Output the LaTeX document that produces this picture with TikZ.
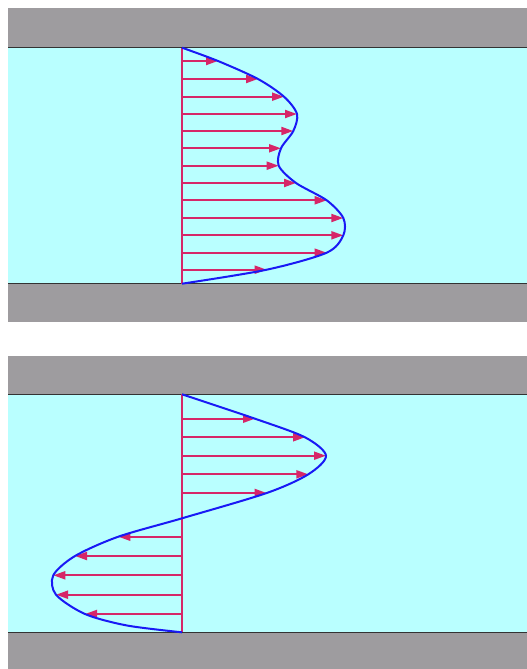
\documentclass[tikz,border=0pt]{standalone}
\usepackage{tikz}
\usetikzlibrary{arrows.meta}

\definecolor{wallgray}{RGB}{158,156,159}
\definecolor{fluid}{RGB}{185,255,255}
\definecolor{vecred}{RGB}{214,38,104}
\definecolor{profblue}{RGB}{25,25,245}

\tikzset{
  wall/.style={fill=wallgray, draw=none},
  fluidbox/.style={fill=fluid, draw=none},
  wallline/.style={draw=black!80, line width=1.5pt},
  axis/.style={draw=vecred, line width=2pt},
  vec/.style={draw=vecred, line width=2pt, -{Triangle[length=12pt,width=8pt]}},
  profile/.style={draw=profblue, line width=2pt}
}

\begin{document}
\begin{tikzpicture}[x=1pt, y=-1pt]
  \useasboundingbox (0,0) rectangle (527,669);

  % upper channel
  \fill[wall] (8,8) rectangle (527,47.7);
  \fill[fluidbox] (8,47.7) rectangle (527,283.7);
  \fill[wall] (8,283.7) rectangle (527,322);
  \draw[wallline] (8,47.7) -- (527,47.7);
  \draw[wallline] (8,283.7) -- (527,283.7);

  \coordinate (top1) at (182,47.7);
  \coordinate (bot1) at (182,283.7);
  \draw[axis] (top1) -- (bot1);

  \foreach \y/\u [count=\i] in {61/218, 79/258, 96.7/284, 114/297, 131/293.3,
      148.3/281, 165.7/278.7, 183/296, 200.3/326.7, 218/343.3, 235.3/343.3,
      252.7/326.7, 269.7/266.7} {
    \coordinate (p\i) at (182,\y);
    \coordinate (q\i) at (\u,\y);
    \draw[vec] (p\i) -- (q\i);
  }

  \draw[profile] plot[smooth] coordinates {(top1) (q1) (q2) (q3) (q4)
    (q5) (q6) (q7) (q8) (q9) (q10) (q11) (q12) (q13) (bot1)};

  % lower channel
  \fill[wall] (8,356) rectangle (527,394.3);
  \fill[fluidbox] (8,394.3) rectangle (527,632.3);
  \fill[wall] (8,632.3) rectangle (527,669);
  \draw[wallline] (8,394.3) -- (527,394.3);
  \draw[wallline] (8,632.3) -- (527,632.3);

  \coordinate (top2) at (182,394.3);
  \coordinate (bot2) at (182,632.3);
  \coordinate (zero2) at (182,518.3);
  \draw[axis] (top2) -- (bot2);

  \foreach \y/\u [count=\i] in {418.7/255, 437.3/305, 455.7/326, 474.3/308.3,
      493/266.7, 536.7/118.3, 556/75, 575.3/53.3, 594.7/56, 614/85} {
    \coordinate (r\i) at (182,\y);
    \coordinate (s\i) at (\u,\y);
    \draw[vec] (r\i) -- (s\i);
  }

  \draw[profile] plot[smooth] coordinates {(top2) (s1) (s2) (s3) (s4)
    (s5) (zero2) (s6) (s7) (s8) (s9) (s10) (127,625.5) (bot2)};
\end{tikzpicture}
\end{document}
